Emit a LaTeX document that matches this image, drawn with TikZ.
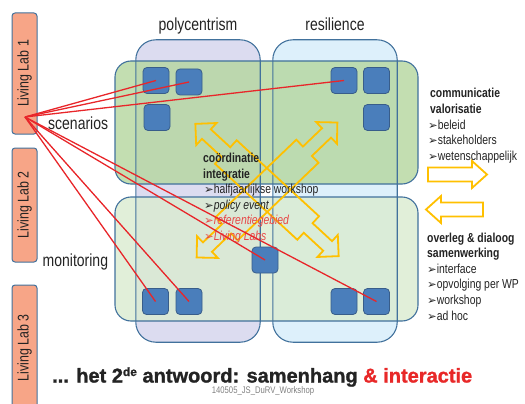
\documentclass[tikz,border=0pt]{standalone}
\usepackage{fontspec}
\setmainfont{Liberation Sans}
\newfontfamily\nar[FakeStretch=0.8]{Liberation Sans}
\newfontfamily\heavy[BoldFeatures={FakeBold=1.3}]{Liberation Sans}
\newfontfamily\sym{DejaVu Sans}
\definecolor{llfill}{RGB}{247,165,135}
\definecolor{bord}{RGB}{65,113,156}
\definecolor{lav}{RGB}{220,220,240}
\definecolor{lblue}{RGB}{221,240,251}
\definecolor{grn}{RGB}{180,214,158}
\definecolor{lgrn}{RGB}{218,235,208}
\definecolor{sqf}{RGB}{74,126,187}
\definecolor{sqb}{RGB}{56,93,138}
\definecolor{rline}{RGB}{232,38,42}
\definecolor{gold}{RGB}{255,192,0}
\definecolor{rtext}{RGB}{232,70,70}
\definecolor{ttlred}{RGB}{232,40,40}
\definecolor{dtext}{RGB}{35,35,35}
\newcommand\bl{{\sym\fontsize{11.5}{11}\selectfont ➢}}
\begin{document}
\begin{tikzpicture}[x=1pt,y=-1pt,
  llbox/.style={draw=bord, line width=1pt, fill=llfill, rounded corners=3pt, minimum width=25, inner sep=0},
  colfill/.style={fill=#1, rounded corners=20pt, minimum width=124, minimum height=302, inner sep=0},
  rowbox/.style={draw=bord, line width=1.1pt, fill=#1, fill opacity=0.8, rounded corners=16pt, minimum width=303, minimum height=123, inner sep=0},
  colline/.style={draw=bord, line width=1.1pt, rounded corners=20pt},
  sq/.style={draw=sqb, line width=0.8pt, fill=sqf, rounded corners=4pt, minimum width=26, minimum height=26, inner sep=0},
  rl/.style={draw=rline, line width=1.3pt},
  yarrow/.style={draw=gold, line width=1.8pt},
  lbl/.style={inner sep=0, text=dtext, font=\nar\fontsize{17.5}{20}\selectfont},
  txt/.style={inner sep=0, anchor=base west, text=dtext, font=\nar\fontsize{13}{15}\selectfont},
  hd/.style={txt, font=\nar\bfseries\fontsize{13}{15}\selectfont},
  lltxt/.style={inner sep=0, rotate=90, text=dtext, font=\nar\fontsize{15.5}{18}\selectfont}
]
\useasboundingbox (0,0) rectangle (525,404);
\clip (0,0) rectangle (525,404);

% Living Labs
\node[llbox, minimum height=121] (ll1) at (24.5,73.5) {};
\node[llbox, minimum height=114] (ll2) at (24.5,205) {};
\node[llbox, minimum height=130] (ll3) at (24.5,350) {};
\node[lltxt] (ll1t) at (ll1.center) {Living Lab 1};
\node[lltxt] (ll2t) at (ll2.center) {Living Lab 2};
\node[lltxt] (ll3t) at (24.5,348) {Living Lab 3};

% columns
\node[colfill=lav] (col1) at (198,191) {};
\node[colfill=lblue] (col2) at (335,191) {};
% rows
\node[rowbox=grn] (row1) at (266.5,122.5) {};
\node[rowbox=lgrn, minimum height=124] (row2) at (266.5,259) {};
% column outlines on top
\draw[colline] (col1.south west) rectangle (col1.north east);
\draw[colline] (col2.south west) rectangle (col2.north east);

% labels
\node[lbl, anchor=base] (pc) at (198,31) {polycentrism};
\node[lbl, anchor=base] (rs) at (335,31) {resilience};
\node[lbl, anchor=base west] (sc) at (48,129) {scenarios};
\node[lbl, anchor=base west] (mo) at (42.5,266) {monitoring};

% squares
\node[sq] (s1) at (156,80.5) {};
\node[sq] (s2) at (189,82) {};
\node[sq] (s3) at (157,117.5) {};
\node[sq] (s4) at (344,80.5) {};
\node[sq] (s5) at (376.5,80.5) {};
\node[sq] (s6) at (376.5,117.5) {};
\node[sq] (s7) at (155.5,301.5) {};
\node[sq] (s8) at (189,301.5) {};
\node[sq] (s9) at (265,260) {};
\node[sq] (s10) at (344,301.5) {};
\node[sq] (s11) at (376.5,301.5) {};

% yellow crossing arrows
\begin{scope}[shift={(267,190)}, rotate=-42.7]
\draw[yarrow] (97.5,0) -- (82.5,15) -- (82.5,6.5) -- (56,6.5) -- (56,16) -- (-56,16) -- (-56,6.5) -- (-82.5,6.5) -- (-82.5,15) -- (-97.5,0) -- (-82.5,-15) -- (-82.5,-6.5) -- (-56,-6.5) -- (-56,-16) -- (56,-16) -- (56,-6.5) -- (82.5,-6.5) -- (82.5,-15) -- cycle;
\end{scope}
\begin{scope}[shift={(267,190)}, rotate=43.8]
\draw[yarrow] (97.5,0) -- (82.5,15) -- (82.5,6.5) -- (56,6.5) -- (56,16) -- (-56,16) -- (-56,6.5) -- (-82.5,6.5) -- (-82.5,15) -- (-97.5,0) -- (-82.5,-15) -- (-82.5,-6.5) -- (-56,-6.5) -- (-56,-16) -- (56,-16) -- (56,-6.5) -- (82.5,-6.5) -- (82.5,-15) -- cycle;
\end{scope}

% side arrows
\draw[yarrow] (428,167.5) -- (472,167.5) -- (472,161) -- (487,174.5) -- (472,188) -- (472,181.5) -- (428,181.5) -- cycle;
\draw[yarrow] (483,202.5) -- (441,202.5) -- (441,196) -- (426,209.5) -- (441,223) -- (441,216.5) -- (483,216.5) -- cycle;

% center text
\node[hd] (c1) at (203,162.5) {coördinatie};
\node[hd] (c2) at (203,178) {integratie};
\node[txt] (c3) at (204,193.5) {\bl halfjaarlijkse workshop};
\node[txt] (c4) at (204,209) {\bl\itshape policy event};
\node[txt, text=rtext] (c5) at (204,224.5) {\bl\itshape referentiegebied};
\node[txt, text=rtext] (c6) at (204,240) {\bl\itshape Living Labs};

% right text
\node[hd] (r1) at (430,98) {communicatie};
\node[hd] (r2) at (430,113.5) {valorisatie};
\node[txt] (r3) at (428,129) {\bl beleid};
\node[txt] (r4) at (428,144.5) {\bl stakeholders};
\node[txt] (r5) at (428,160) {\bl wetenschappelijk};
\node[hd] (r6) at (427,242) {overleg \& dialoog};
\node[hd] (r7) at (427,257) {samenwerking};
\node[txt] (r8) at (427,273) {\bl interface};
\node[txt] (r9) at (427,288.5) {\bl opvolging per WP};
\node[txt] (r10) at (427,304) {\bl workshop};
\node[txt] (r11) at (427,320) {\bl ad hoc};

% red lines
\coordinate (o) at (25,117);
\draw[rl] (o) -- (s1.center);
\draw[rl] (o) -- (s2.center);
\draw[rl] (o) -- (s4.center);
\draw[rl] (o) -- (s9.center);
\draw[rl] (o) -- (s11.center);
\draw[rl] (o) -- (s7.center);
\draw[rl] (o) -- (s8.center);

% title
\node[inner sep=0, anchor=base west, text=dtext, font=\heavy\bfseries\fontsize{20}{24}\selectfont] (title) at (52,382.5)
  {... het 2\raisebox{6.5pt}{\fontsize{12}{12}\selectfont de} antwoord: samenhang \textcolor{ttlred}{\& interactie}};
\node[inner sep=0, text=gray, font=\nar\fontsize{9.6}{11}\selectfont] (foot) at (263,391) {140505\_JS\_DuRV\_Workshop};
\end{tikzpicture}
\end{document}
